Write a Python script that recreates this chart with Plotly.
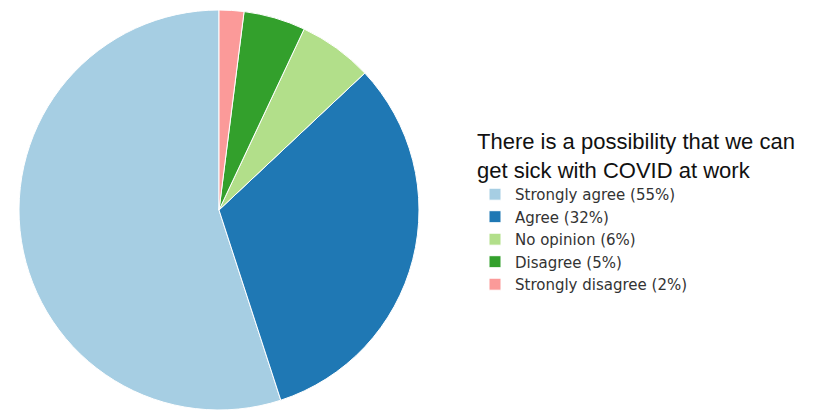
import plotly.graph_objects as go

labels = ["Strongly agree (55%)", "Agree (32%)", "No opinion (6%)", "Disagree (5%)", "Strongly disagree (2%)"]
values = [55, 32, 6, 5, 2]
colors = ["#a6cee3", "#1f78b4", "#b2df8a", "#33a02c", "#fb9a99"]
legend_title = "There is a possibility that we can<br>get sick with COVID at work"

W, H = 815, 410
fig = go.Figure(go.Pie(
    labels=labels, values=values, sort=False, direction="counterclockwise", rotation=162,
    marker=dict(colors=colors, line=dict(color="white", width=1)),
    textinfo="none", hoverinfo="label+percent",
    domain=dict(x=[11 / W, 411 / W], y=[8 / H, 408 / H]),
))
fig.update_layout(
    width=W, height=H,
    margin=dict(l=0, r=0, t=0, b=0),
    paper_bgcolor="white", plot_bgcolor="white",
    font=dict(family="Liberation Sans, Arial, sans-serif", color="#1a1a1a"),
    legend=dict(
        title=dict(text=legend_title,
                   font=dict(size=22, color="#111", family="Liberation Sans, Arial, sans-serif")),
        font=dict(size=15, color="#333", family="DejaVu Sans, Liberation Sans, sans-serif"),
        x=467 / W, y=0.725, xanchor="left", yanchor="top",
        itemwidth=30, tracegroupgap=0,
        bgcolor="rgba(0,0,0,0)",
    ),
)
fig.write_html("out.html")
